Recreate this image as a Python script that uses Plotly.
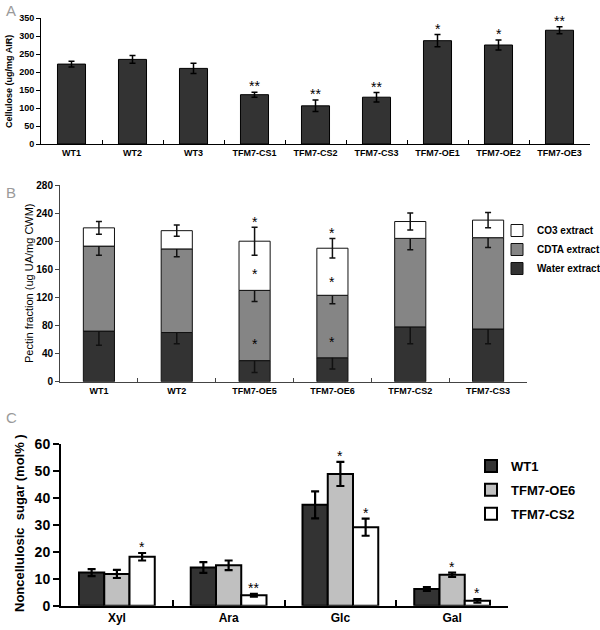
import numpy as np
import plotly.graph_objects as go

# ---------------- Panel A data ----------------
a_cats = ["WT1", "WT2", "WT3", "TFM7-CS1", "TFM7-CS2", "TFM7-CS3", "TFM7-OE1", "TFM7-OE2", "TFM7-OE3"]
a_vals = [222, 235, 210, 137, 106, 130, 287, 275, 316]
a_err = [8, 11, 14, 7, 16, 13, 17, 14, 10]
a_sig = ["", "", "", "**", "**", "**", "*", "*", "**"]

# ---------------- Panel B data ----------------
b_cats = ["WT1", "WT2", "TFM7-OE5", "TFM7-OE6", "TFM7-CS2", "TFM7-CS3"]
b_water = [72, 70, 30, 34, 78, 75]
b_water_err = [20, 16, 17, 16, 24, 21]
b_cdta = [121, 119, 100, 89, 126, 130]
b_cdta_err = [13, 11, 16, 12, 16, 14]
b_co3 = [26, 26, 70, 67, 24, 25]
b_co3_err = [9, 8, 20, 14, 12, 11]
b_sig = ["", "", "*", "*", "", ""]
b_series = ["Water extract", "CDTA extract", "CO3 extract"]

# ---------------- Panel C data ----------------
c_cats = ["Xyl", "Ara", "Glc", "Gal"]
c_series = ["WT1", "TFM7-OE6", "TFM7-CS2"]
c_wt1 = [12.3, 14.2, 37.5, 6.2]
c_wt1_err = [1.3, 2.0, 5.0, 0.7]
c_oe6 = [11.8, 15.0, 49.0, 11.5]
c_oe6_err = [1.5, 1.8, 4.5, 0.8]
c_cs2 = [18.2, 3.9, 29.2, 1.8]
c_cs2_err = [1.4, 0.5, 3.2, 0.7]
c_sig_wt1 = ["", "", "", ""]
c_sig_oe6 = ["", "", "*", "*"]
c_sig_cs2 = ["*", "**", "*", "*"]

FONT = "Arial, Liberation Sans, sans-serif"
NARROW = "Liberation Sans Narrow, Arial Narrow, Liberation Sans, sans-serif"
fig = go.Figure()
annotations = []

# ---------------- Panel A ----------------
fig.add_trace(go.Bar(
    x=a_cats, y=a_vals, width=0.46, xaxis="x", yaxis="y",
    marker=dict(color="#333333", line=dict(color="#000000", width=1)),
    error_y=dict(type="data", array=a_err, color="#000000", thickness=1.5, width=3),
    showlegend=False, hoverinfo="skip"))
for c, v, e, s in zip(a_cats, a_vals, a_err, a_sig):
    if s:
        annotations.append(dict(x=c, y=v + e, xref="x", yref="y", text=s, showarrow=False,
                                yanchor="bottom", yshift=-4,
                                font=dict(family=FONT, size=14, color="#000")))

# ---------------- Panel B ----------------
b_w = np.array(b_water, dtype=float)
b_c = np.array(b_cdta, dtype=float)
b_o = np.array(b_co3, dtype=float)
b_bases = [np.zeros_like(b_w), b_w, b_w + b_c]
b_vals = [b_w, b_c, b_o]
b_errs = [b_water_err, b_cdta_err, b_co3_err]
b_colors = ["#333333", "#858585", "#ffffff"]
for name, base, vals, errs, col in zip(b_series, b_bases, b_vals, b_errs, b_colors):
    fig.add_trace(go.Bar(
        x=b_cats, y=vals, base=base, width=0.4, xaxis="x2", yaxis="y2", name=name,
        marker=dict(color=col, line=dict(color="#111111", width=1)),
        error_y=dict(type="data", array=errs, color="#111111", thickness=1.5, width=3),
        legend="legend", hoverinfo="skip"))
    for c, b, v, e, s in zip(b_cats, base, vals, errs, b_sig):
        if s:
            annotations.append(dict(x=c, y=b + v + e, xref="x2", yref="y2", text=s, showarrow=False,
                                    yanchor="bottom", yshift=-5,
                                    font=dict(family=FONT, size=14, color="#000")))

# ---------------- Panel C ----------------
c_vals = [c_wt1, c_oe6, c_cs2]
c_errs = [c_wt1_err, c_oe6_err, c_cs2_err]
c_sigs = [c_sig_wt1, c_sig_oe6, c_sig_cs2]
c_colors = ["#333333", "#c0c0c0", "#ffffff"]
c_w = 0.226
c_offsets = [-1.5 * c_w, -0.5 * c_w, 0.5 * c_w]
for name, vals, errs, sigs, col, off in zip(c_series, c_vals, c_errs, c_sigs, c_colors, c_offsets):
    fig.add_trace(go.Bar(
        x=c_cats, y=vals, width=c_w, offset=off, xaxis="x3", yaxis="y3", name=name,
        marker=dict(color=col, line=dict(color="#000000", width=2)),
        error_y=dict(type="data", array=errs, color="#000000", thickness=2.2, width=4),
        legend="legend2", legendgroup=name, hoverinfo="skip"))
    for i, (v, e, s) in enumerate(zip(vals, errs, sigs)):
        if s:
            annotations.append(dict(x=i + off + c_w / 2, y=v + e, xref="x3", yref="y3", text=s,
                                    showarrow=False, yanchor="bottom", yshift=-4,
                                    font=dict(family=FONT, size=14, color="#000")))

# ---------------- Titles / panel letters ----------------
annotations += [
    dict(x=9 / 600, y=1 - 82 / 630, xref="paper", yref="paper", text="<b>Cellulose (ug/mg AIR)</b>",
         xanchor="center", yanchor="middle",
         textangle=-90, showarrow=False, font=dict(family=FONT, size=9, color="#000")),
    dict(x=29 / 600, y=1 - 283 / 630, xref="paper", yref="paper", text="Pectin fraction (ug UA/mg CWM)",
         xanchor="center", yanchor="middle",
         textangle=-90, showarrow=False, font=dict(family=FONT, size=11, color="#000")),
    dict(x=19 / 600, y=1 - 523 / 630, xref="paper", yref="paper",
         text="<b>Noncellulosic  sugar (mol% )</b>", xanchor="center", yanchor="middle",
         textangle=-90, showarrow=False, font=dict(family=FONT, size=13, color="#000")),
    dict(x=4 / 600, y=1 - 0 / 630, xref="paper", yref="paper", text="A", xanchor="left", yanchor="top",
         showarrow=False, font=dict(family=FONT, size=15, color="#9a9a9a")),
    dict(x=4 / 600, y=1 - 182 / 630, xref="paper", yref="paper", text="B", xanchor="left", yanchor="top",
         showarrow=False, font=dict(family=FONT, size=15, color="#9a9a9a")),
    dict(x=4 / 600, y=1 - 407 / 630, xref="paper", yref="paper", text="C", xanchor="left", yanchor="top",
         showarrow=False, font=dict(family=FONT, size=15, color="#9a9a9a")),
]

bold9 = dict(family=FONT, size=9, color="#000", weight="bold")

fig.update_layout(
    width=600, height=630,
    margin=dict(l=0, r=0, t=0, b=0, autoexpand=False),
    paper_bgcolor="white", plot_bgcolor="white",
    barmode="overlay",
    showlegend=True,
    annotations=annotations,
    xaxis=dict(domain=[41 / 600, 590 / 600], anchor="y", type="category", range=[-0.5, 8.5],
               showline=True, linecolor="#000", linewidth=1, ticks="inside", ticklen=4,
               tickson="boundaries", tickcolor="#000", showgrid=False, tickfont=bold9, automargin=False),
    yaxis=dict(domain=[1 - 144 / 630, 1 - 18 / 630], anchor="x", range=[0, 350], dtick=50,
               showline=True, linecolor="#000", linewidth=1, ticks="outside", ticklen=4,
               tickcolor="#000", showgrid=False, zeroline=False, tickfont=bold9, automargin=False),
    xaxis2=dict(domain=[60 / 600, 527 / 600], anchor="y2", type="category", range=[-0.5, 5.5],
                showline=True, linecolor="#444", linewidth=1, ticks="inside", ticklen=4,
                tickson="boundaries", tickcolor="#444", showgrid=False, tickfont=bold9, automargin=False),
    yaxis2=dict(domain=[1 - 381.7 / 630, 1 - 185 / 630], anchor="x2", range=[0, 280], dtick=40,
                showline=True, linecolor="#444", linewidth=1, ticks="outside", ticklen=4,
                tickcolor="#444", showgrid=False, zeroline=False, automargin=False,
                tickfont=dict(family=FONT, size=10, color="#000", weight="bold")),
    xaxis3=dict(domain=[61 / 600, 508 / 600], anchor="y3", type="category", range=[-0.5, 3.5],
                showline=True, linecolor="#000", linewidth=2, ticks="inside", ticklen=6, tickwidth=2,
                tickson="boundaries", tickcolor="#000", showgrid=False, automargin=False,
                tickfont=dict(family=FONT, size=12, color="#000", weight="bold")),
    yaxis3=dict(domain=[1 - 605.7 / 630, 1 - 444.3 / 630], anchor="x3", range=[0, 60], dtick=10,
                showline=True, linecolor="#000", linewidth=2, ticks="outside", ticklen=6, tickwidth=2,
                tickcolor="#000", showgrid=False, zeroline=False, automargin=False,
                tickfont=dict(family=NARROW, size=14, color="#000", weight="bold")),
    legend=dict(x=497 / 600, y=1 - 216 / 630, xanchor="left", yanchor="top", traceorder="reversed",
                bgcolor="rgba(0,0,0,0)", itemwidth=30, tracegroupgap=0,
                font=dict(family=FONT, size=10, color="#000", weight="bold")),
    legend2=dict(x=471 / 600, y=1 - 451 / 630, xanchor="left", yanchor="top", traceorder="grouped",
                 bgcolor="rgba(0,0,0,0)", itemwidth=30, tracegroupgap=4,
                 font=dict(family=NARROW, size=13, color="#000", weight="bold")),
)

fig.write_html("out.html", config={"displayModeBar": False},
               post_script="document.body.style.margin='0px';")
